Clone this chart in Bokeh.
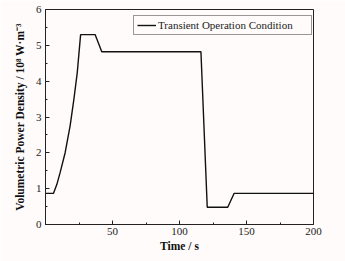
from bokeh.plotting import figure
from bokeh.models import FixedTicker, Range1d, Legend, LegendItem
from bokeh.embed import file_html
from bokeh.resources import INLINE

time_s = [0, 6, 8.5, 11, 14.7, 18.4, 21.2, 23.7, 26.2, 37, 42, 116, 120.7, 136, 140.8, 200]
power = [0.87, 0.87, 1.12, 1.46, 2.01, 2.76, 3.50, 4.24, 5.3, 5.3, 4.82, 4.82, 0.48, 0.48, 0.87, 0.87]
x_ticks = [50, 100, 150, 200]
x_minor = [25, 75, 125, 175]
y_ticks = [0, 1, 2, 3, 4, 5, 6]
y_minor = [0.5, 1.5, 2.5, 3.5, 4.5, 5.5]
series_name = "Transient Operation Condition"

FONT = "Liberation Serif"
BG = "#fefbfa"

p = figure(frame_width=268, frame_height=215, output_backend="svg", toolbar_location=None,
           x_range=Range1d(0, 200), y_range=Range1d(0, 6),
           min_border_left=45, min_border_right=32, min_border_top=9, min_border_bottom=37,
           background_fill_color=BG, border_fill_color=BG)
p.grid.visible = False
p.outline_line_color = "#222222"
p.outline_line_width = 1

r = p.line(time_s, power, line_color="#111111", line_width=1.4)

for ax, tk, mn in ((p.xaxis[0], x_ticks, x_minor), (p.yaxis[0], y_ticks, y_minor)):
    ax.ticker = FixedTicker(ticks=tk, minor_ticks=mn)
    ax.major_tick_in = 4
    ax.major_tick_out = 0
    ax.minor_tick_in = 2
    ax.minor_tick_out = 0
    ax.axis_line_color = "#222222"
    ax.major_tick_line_color = "#222222"
    ax.minor_tick_line_color = "#222222"
    ax.major_label_text_font = FONT
    ax.major_label_text_font_size = "11px"
    ax.major_label_text_color = "#222222"
    ax.axis_label_text_font = FONT
    ax.axis_label_text_font_style = "bold"
    ax.axis_label_text_font_size = "11.5px"
    ax.axis_label_text_color = "#111111"

p.xaxis.axis_label = "Time / s"
p.yaxis.axis_label = "Volumetric Power Density / 10⁸ W·m⁻³"
p.xaxis.major_label_standoff = 3
p.xaxis.axis_label_standoff = 2
p.yaxis.major_label_standoff = 4
p.yaxis.axis_label_standoff = 7

legend = Legend(items=[LegendItem(label=series_name, renderers=[r])],
                location=(88, 189), orientation="vertical",
                padding=3, spacing=0, margin=0,
                glyph_width=19, glyph_height=10, label_height=10, label_width=150,
                label_standoff=2,
                label_text_font=FONT, label_text_font_size="11px", label_text_color="#222222",
                border_line_color="#333333", border_line_width=1,
                background_fill_color=BG, background_fill_alpha=1)
p.add_layout(legend)

open("out.html", "w").write(file_html(p, INLINE))
